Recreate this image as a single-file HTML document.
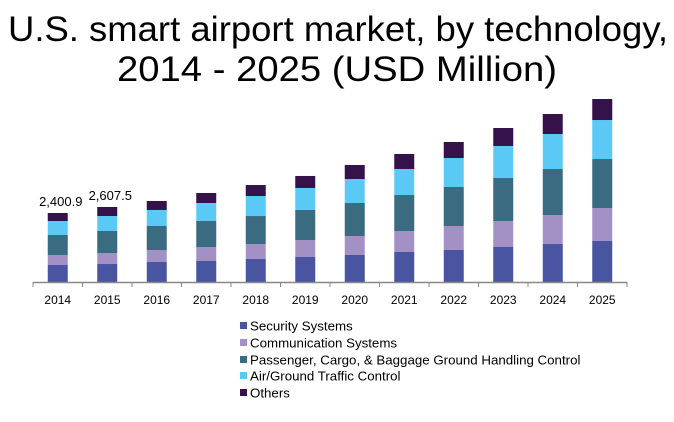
<!DOCTYPE html>
<html><head><meta charset="utf-8"><style>
body{margin:0;background:#fff;width:674px;height:417px;overflow:hidden;font-family:"Liberation Sans",Arial,sans-serif}
</style></head><body>
<svg width="674" height="417" xmlns="http://www.w3.org/2000/svg">
<text x="8" y="41" font-size="35" textLength="660" lengthAdjust="spacingAndGlyphs" fill="#000">U.S. smart airport market, by technology,</text>
<text x="117" y="81" font-size="35" textLength="440" lengthAdjust="spacingAndGlyphs" fill="#000">2014 - 2025 (USD Million)</text>
<g id="bars"></g>
<g id="axis"></g>
<g id="legend"></g>
</svg>
<script>
const years=["2014","2015","2016","2017","2018","2019","2020","2021","2022","2023","2024","2025"];
const security=[592,626,696,731,800,870,940,1044,1114,1218,1322,1427];
const communication=[348,383,418,487,522,592,661,731,835,905,1009,1148];
const passenger=[696,766,835,905,974,1044,1148,1253,1357,1496,1601,1705];
const traffic=[487,522,557,626,696,766,835,905,1009,1114,1218,1357];
const others=[278,313,313,348,383,418,487,522,557,626,696,731];
const totalLabels=["2,400.9","2,607.5"];
const seriesNames=["Security Systems","Communication Systems","Passenger, Cargo, & Baggage Ground Handling Control","Air/Ground Traffic Control","Others"];
const colors=["#4a55a2","#a391c5","#3b6b80","#5bc9f5","#35124a"];
const series=[security,communication,passenger,traffic,others];
const keys=["security","communication","passenger","traffic","others"];
const NS="http://www.w3.org/2000/svg";
const baseY=282, scale=1/34.8, x0=33, x1=627;
const step=(x1-x0)/years.length, bw=20;
function xc(i){return x0+step*(i+0.5);}
function yv(v){return baseY-v*scale;}
function mk(t,a){const e=document.createElementNS(NS,t);for(const k in a)e.setAttribute(k,a[k]);return e;}
const bars=document.getElementById('bars');
years.forEach((y,i)=>{
  let cum=0;
  series.forEach((s,k)=>{
    const top=yv(cum+s[i]), bot=yv(cum);
    const r=mk('rect',{x:xc(i)-bw/2,y:top,width:bw,height:bot-top,fill:colors[k]});
    
    
    bars.appendChild(r);
    cum+=s[i];
  });
  if(i<totalLabels.length){
    const t=mk('text',{x:xc(i)+3,y:yv(cum)-7,'text-anchor':'middle','font-size':13,fill:'#000'});
    t.textContent=totalLabels[i];
    
    
    bars.appendChild(t);
  }
});
const ax=document.getElementById('axis');
const ln=mk('line',{x1:x0,y1:baseY+0.5,x2:x1,y2:baseY+0.5,stroke:'#888','stroke-width':1.5});


ax.appendChild(ln);
for(let i=0;i<=years.length;i++){
  const tk=mk('line',{x1:x0+step*i,y1:baseY,x2:x0+step*i,y2:baseY+5,stroke:'#888','stroke-width':1});
  
  
  ax.appendChild(tk);
}
years.forEach((y,i)=>{
  const t=mk('text',{x:xc(i),y:304,'text-anchor':'middle','font-size':12,fill:'#000'});
  t.textContent=y;
  
  
  ax.appendChild(t);
});
const lg=document.getElementById('legend');
const ly=[326,343,360,376,393];
seriesNames.forEach((n,k)=>{
  const r=mk('rect',{x:240,y:ly[k]-4,width:7,height:7,fill:colors[k]});
  
  
  lg.appendChild(r);
  const t=mk('text',{x:250,y:ly[k]+4.5,'font-size':13.3,fill:'#000'});
  t.textContent=n;
  
  
  lg.appendChild(t);
});
</script>
</body></html>
